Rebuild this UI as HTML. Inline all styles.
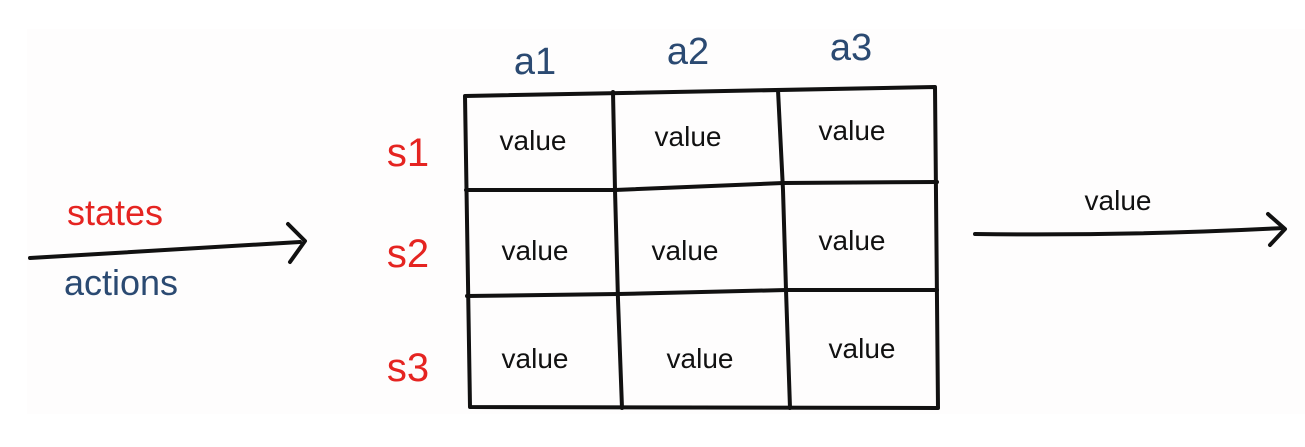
<!DOCTYPE html>
<html><head><style>body{margin:0;background:#fff}svg{display:block}</style></head><body>
<svg width="1305" height="447" viewBox="0 0 1305 447" xmlns="http://www.w3.org/2000/svg" font-family="'Comic Sans MS','Liberation Sans',sans-serif">
<rect x="27" y="29" width="1278" height="385" fill="#fefdfd"/>
<g fill="none" stroke="#111" stroke-width="4" stroke-linecap="round" stroke-linejoin="round">
<path d="M465 96 L935 87 L938 408 L470 407 Z"/>
<path d="M613 92 L615 190 L618 300 L622 408"/>
<path d="M778 90 L783 190 L786 290 L790 408"/>
<path d="M466 190 L615 190 L783 183 L937 182"/>
<path d="M467 296 L618 294 L786 290 L937 290"/>
<path d="M30 258 Q160 250 300 242"/>
<path d="M288 224 L305 241 L290 262"/>
<path d="M975 234 Q1130 236 1283 228"/>
<path d="M1268 214 L1285 229 L1270 245"/>
</g>
<g font-size="28" fill="#111" text-anchor="middle">
<text x="533" y="150">value</text><text x="688" y="146">value</text><text x="852" y="140">value</text>
<text x="535" y="260">value</text><text x="685" y="260">value</text><text x="852" y="250">value</text>
<text x="535" y="368">value</text><text x="700" y="368">value</text><text x="862" y="358">value</text>
<text x="1118" y="210">value</text>
</g>
<g font-size="38" fill="#2b4a72" text-anchor="middle">
<text x="535" y="74">a1</text><text x="688" y="64">a2</text><text x="851" y="60">a3</text>
<text x="121" y="295" font-size="36">actions</text>
</g>
<g font-size="40" fill="#e52421" text-anchor="middle">
<text x="408" y="166">s1</text><text x="408" y="267">s2</text><text x="408" y="381">s3</text>
<text x="115" y="225" font-size="36">states</text>
</g>
</svg>
</body></html>
